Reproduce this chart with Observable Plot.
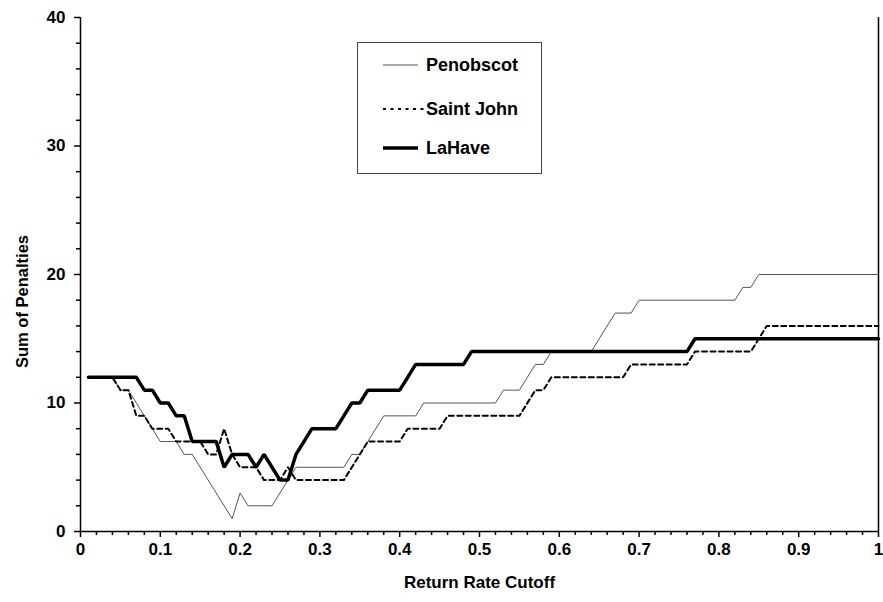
<!DOCTYPE html>
<html>
<head>
<meta charset="utf-8">
<script src="https://cdn.jsdelivr.net/npm/d3@7"></script>
<script src="https://cdn.jsdelivr.net/npm/@observablehq/plot@0.6"></script>
<style>
  html, body { margin: 0; padding: 0; background: #fff; }
  #wrap { position: relative; width: 883px; height: 602px; overflow: hidden; }
</style>
</head>
<body>
<div id="wrap"></div>
<script>
// ---- data (breakpoints) ----
const seriesNames = ["Penobscot", "Saint John", "LaHave"];

const penobscotX = [0.01, 0.04, 0.05, 0.06, 0.10, 0.12, 0.13, 0.14, 0.19, 0.20, 0.21, 0.24, 0.27, 0.33, 0.34, 0.35, 0.38, 0.42, 0.43, 0.52, 0.53, 0.55, 0.57, 0.58, 0.59, 0.64, 0.67, 0.69, 0.70, 0.82, 0.83, 0.84, 0.85, 1.00];
const penobscotY = [12, 12, 11, 11, 7, 7, 6, 6, 1, 3, 2, 2, 5, 5, 6, 6, 9, 9, 10, 10, 11, 11, 13, 13, 14, 14, 17, 17, 18, 18, 19, 19, 20, 20];

const saintJohnX = [0.01, 0.04, 0.05, 0.06, 0.07, 0.08, 0.09, 0.11, 0.12, 0.15, 0.16, 0.17, 0.18, 0.19, 0.20, 0.22, 0.23, 0.25, 0.26, 0.27, 0.33, 0.36, 0.40, 0.41, 0.45, 0.46, 0.55, 0.57, 0.58, 0.59, 0.68, 0.69, 0.76, 0.77, 0.84, 0.86, 1.00];
const saintJohnY = [12, 12, 11, 11, 9, 9, 8, 8, 7, 7, 6, 6, 8, 6, 5, 5, 4, 4, 5, 4, 4, 7, 7, 8, 8, 9, 9, 11, 11, 12, 12, 13, 13, 14, 14, 16, 16];

const laHaveX = [0.01, 0.07, 0.08, 0.09, 0.10, 0.11, 0.12, 0.13, 0.14, 0.17, 0.18, 0.19, 0.21, 0.22, 0.23, 0.24, 0.25, 0.26, 0.27, 0.28, 0.29, 0.32, 0.33, 0.34, 0.35, 0.36, 0.40, 0.41, 0.42, 0.48, 0.49, 0.76, 0.77, 1.00];
const laHaveY = [12, 12, 11, 11, 10, 10, 9, 9, 7, 7, 5, 6, 6, 5, 6, 5, 4, 4, 6, 7, 8, 8, 9, 10, 10, 11, 11, 12, 13, 13, 14, 14, 15, 15];

const xMajorTicks = [0, 0.1, 0.2, 0.3, 0.4, 0.5, 0.6, 0.7, 0.8, 0.9, 1];
const xMinorTicks = [0.02, 0.04, 0.06, 0.08, 0.12, 0.14, 0.16, 0.18, 0.22, 0.24, 0.26, 0.28, 0.32, 0.34, 0.36, 0.38, 0.42, 0.44, 0.46, 0.48, 0.52, 0.54, 0.56, 0.58, 0.62, 0.64, 0.66, 0.68, 0.72, 0.74, 0.76, 0.78, 0.82, 0.84, 0.86, 0.88, 0.92, 0.94, 0.96, 0.98];
const yMajorTicks = [0, 10, 20, 30, 40];
const yMinorTicks = [2, 4, 6, 8, 12, 14, 16, 18, 22, 24, 26, 28, 32, 34, 36, 38];

const xLabel = "Return Rate Cutoff";
const yLabel = "Sum of Penalties";

// build tables
const toRows = (xs, ys, name) => xs.map((x, i) => ({x, y: ys[i], series: name}));
const penobscot = toRows(penobscotX, penobscotY, seriesNames[0]);
const saintJohn = toRows(saintJohnX, saintJohnY, seriesNames[1]);
const laHave = toRows(laHaveX, laHaveY, seriesNames[2]);

const styles = {
  "Penobscot": {stroke: "#555", strokeWidth: 1, dash: null},
  "Saint John": {stroke: "#000", strokeWidth: 2, dash: "5,3.5"},
  "LaHave": {stroke: "#000", strokeWidth: 3.5, dash: null}
};

const chart = Plot.plot({
  width: 883,
  height: 602,
  marginLeft: 80,
  marginRight: 5,
  marginTop: 17,
  marginBottom: 71,
  x: {domain: [0, 1]},
  y: {domain: [0, 40]},
  style: {fontFamily: "'Liberation Sans', Arial, sans-serif", fontWeight: "bold", fontSize: "17px", color: "#000", background: "#fff"},
  marks: [
    Plot.axisY(yMajorTicks, {tickSize: 6, tickPadding: 9, tickFormat: d => String(d), label: null, fontSize: 17, stroke: "#000", strokeWidth: 1.5}),
    Plot.axisY(yMinorTicks, {tickSize: 4, tickFormat: () => "", label: null, stroke: "#000", strokeWidth: 1.5}),
    Plot.axisX(xMajorTicks, {tickSize: 6, tickPadding: 5, tickFormat: d => String(d), label: null, fontSize: 17, stroke: "#000", strokeWidth: 1.5}),
    Plot.axisX(xMinorTicks, {tickSize: 4, tickFormat: () => "", label: null, stroke: "#000", strokeWidth: 1.5}),
    Plot.line(penobscot, {x: "x", y: "y", stroke: styles["Penobscot"].stroke, strokeWidth: styles["Penobscot"].strokeWidth}),
    Plot.line(saintJohn, {x: "x", y: "y", stroke: styles["Saint John"].stroke, strokeWidth: styles["Saint John"].strokeWidth, strokeDasharray: styles["Saint John"].dash}),
    Plot.line(laHave, {x: "x", y: "y", stroke: styles["LaHave"].stroke, strokeWidth: styles["LaHave"].strokeWidth, strokeLinejoin: "miter"}),
    Plot.ruleX([0], {stroke: "#000", strokeWidth: 1.5}),
    Plot.ruleX([1], {stroke: "#000", strokeWidth: 1.5}),
    Plot.ruleY([0], {stroke: "#000", strokeWidth: 1.5}),
    Plot.text([xLabel], {text: d => d, frameAnchor: "bottom", textAnchor: "middle", dy: 56, fontSize: 17, fontWeight: "bold", fill: "#000"}),
    Plot.text([yLabel], {text: d => d, frameAnchor: "left", textAnchor: "middle", rotate: -90, dx: -58, dy: 27, fontSize: 16.5, fontWeight: "bold", fill: "#000"})
  ]
});

const wrap = document.getElementById("wrap");
wrap.appendChild(chart);

// legend (boxed, inside plot area)
const lw = 185, lh = 132;
const legend = d3.create("svg").attr("id", "legend").attr("width", lw).attr("height", lh)
  .style("position", "absolute").style("left", "357px").style("top", "42px");
legend.append("rect").attr("x", 0.5).attr("y", 0.5).attr("width", lw - 1).attr("height", lh - 1)
  .attr("fill", "#fff").attr("stroke", "#444").attr("stroke-width", 1);
const rowsY = [23, 67, 106];
seriesNames.forEach((name, i) => {
  const s = styles[name];
  const x2 = name === "Saint John" ? 67 : 61;
  legend.append("line").attr("x1", 26).attr("x2", x2).attr("y1", rowsY[i]).attr("y2", rowsY[i])
    .attr("stroke", s.stroke).attr("stroke-width", s.strokeWidth)
    .attr("stroke-dasharray", name === "Saint John" ? "3,4.5" : null);
  legend.append("text").attr("x", 69).attr("y", rowsY[i]).attr("dy", "0.35em")
    .attr("font-family", "'Liberation Sans', Arial, sans-serif").attr("font-weight", "bold")
    .attr("font-size", 18).attr("fill", "#000").text(name);
});
wrap.appendChild(legend.node());
</script>
</body>
</html>
